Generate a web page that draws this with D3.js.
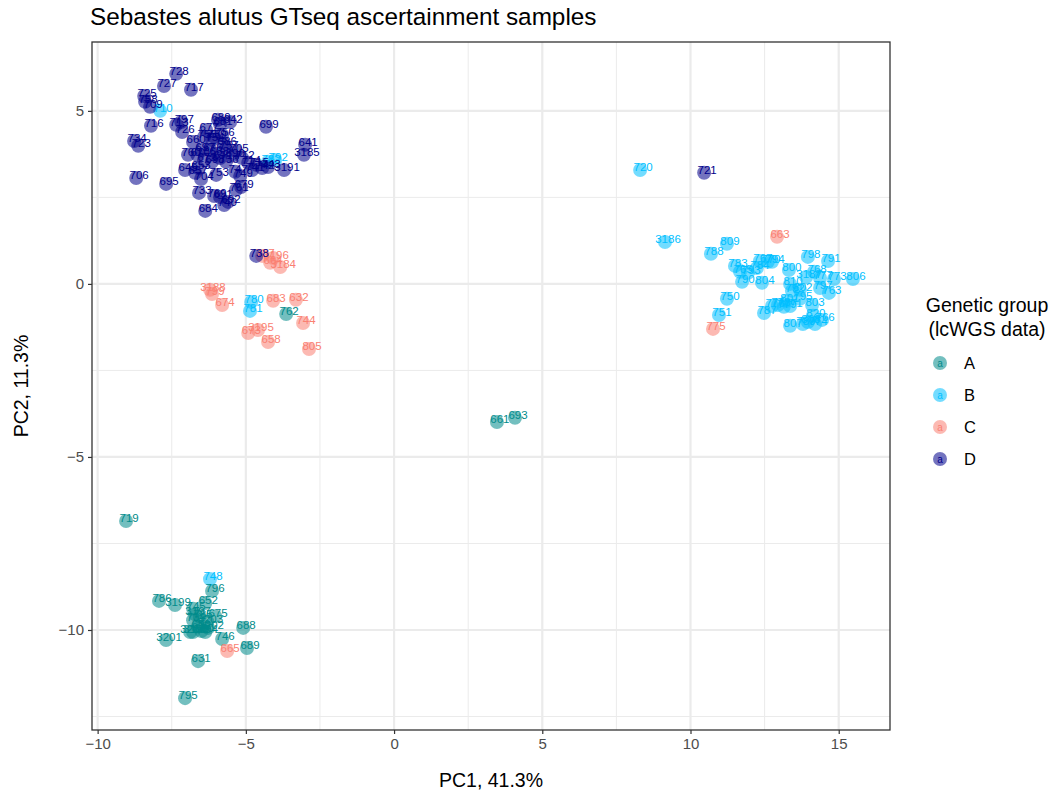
<!DOCTYPE html>
<html><head><meta charset="utf-8">
<script src="https://cdn.jsdelivr.net/npm/d3@7"></script>
<style>body{margin:0;background:#fff}svg{font-family:"Liberation Sans",Arial,sans-serif}</style>
</head><body><svg id="c" width="1060" height="791"></svg>
<script>
// [sample id, PC1, PC2]
const groupA = [
["719",-9.04,-6.85],["661",3.47,-3.99],["693",4.08,-3.87],["762",-3.64,-0.87],
["786",-7.93,-9.16],["3199",-7.39,-9.28],["652",-6.37,-9.22],["796",-6.14,-8.87],["745",-6.78,-9.39],
["3197",-6.71,-9.55],["734",-6.78,-9.72],["656",-6.61,-9.90],["3198",-6.78,-10.06],["690",-6.50,-10.03],
["794",-6.37,-10.06],["785",-6.55,-9.62],["3203",-6.30,-9.76],["3200",-6.88,-10.06],["675",-6.04,-9.60],
["3202",-6.27,-9.94],["688",-5.09,-9.94],["746",-5.80,-10.26],["689",-4.96,-10.52],["3201",-7.69,-10.29],
["631",-6.61,-10.90],["795",-7.05,-11.97]
];
const groupB = [
["710",-7.89,5.00],["782",-4.25,3.53],["792",-4.01,3.58],["780",-4.82,-0.52],["781",-4.86,-0.78],["748",-6.21,-8.53],
["720",8.30,3.29],["3186",9.14,1.21],["809",11.23,1.16],["788",10.69,0.87],["783",11.50,0.52],["765",11.67,0.35],
["767",12.34,0.66],["770",12.61,0.64],["794",12.75,0.64],["793",11.94,0.32],["784",12.24,0.46],["790",11.74,0.06],
["804",12.41,0.03],["800",13.32,0.40],["798",13.96,0.78],["791",14.64,0.66],["768",14.17,0.35],["3187",13.90,0.20],
["777",14.37,0.17],["773",14.84,0.14],["806",15.48,0.14],["810",13.36,0.00],["797",14.37,-0.12],["792",13.42,-0.20],
["802",13.69,-0.17],["795",13.69,-0.43],["803",14.10,-0.61],["763",14.67,-0.26],["750",11.23,-0.43],["751",10.96,-0.90],
["787",12.48,-0.84],["776",12.75,-0.64],["778",12.95,-0.61],["779",13.15,-0.66],["771",13.36,-0.64],["801",13.25,-0.49],
["820",14.13,-0.92],["774",14.20,-1.16],["766",14.44,-1.04],["807",13.36,-1.21],["789",13.79,-1.16],["808",13.96,-1.10]
];
const groupC = [
["737",-4.45,0.81],["3196",-4.08,0.75],["664",-4.18,0.61],["3184",-3.84,0.49],["3188",-6.21,-0.17],["799",-6.14,-0.29],
["674",-5.80,-0.61],["683",-4.08,-0.49],["632",-3.31,-0.46],["744",-3.07,-1.13],["673",-4.92,-1.42],["3195",-4.59,-1.33],
["658",-4.25,-1.68],["805",-2.87,-1.88],["663",12.92,1.36],["775",10.76,-1.30],["665",-5.63,-10.61]
];
const groupD = [
["728",-7.35,6.07],["727",-7.76,5.72],["717",-6.85,5.61],["725",-8.43,5.43],["758",-8.40,5.26],["709",-8.23,5.12],
["716",-8.20,4.57],["797",-7.18,4.68],["713",-7.35,4.60],["726",-7.15,4.39],["689",-5.94,4.74],["681",-5.87,4.62],
["642",-5.53,4.68],["699",-4.32,4.54],["677",-6.34,4.45],["759",-6.07,4.25],["660",-6.78,4.10],["686",-5.73,4.05],
["734",-8.77,4.13],["723",-8.63,3.99],["641",-3.00,4.02],["3185",-3.04,3.73],["705",-5.33,3.84],["706",-8.70,3.06],
["695",-7.69,2.89],["3191",-3.71,3.29],["653",-6.61,3.35],["645",-7.05,3.29],["657",-6.71,3.21],["753",-6.00,3.15],
["704",-6.51,3.03],["736",-5.67,3.53],["733",-6.58,2.63],["769",-6.07,2.54],["679",-5.16,2.80],["761",-5.33,2.72],
["691",-5.87,2.51],["692",-5.60,2.37],["740",-5.73,2.28],["684",-6.37,2.11],["670",-6.64,3.73],["697",-6.48,3.87],
["676",-6.21,3.87],["668",-6.00,3.76],["672",-6.41,3.58],["698",-6.14,3.53],["671",-5.87,3.64],["690",-5.46,3.70],
["712",-5.13,3.64],["714",-4.92,3.50],["715",-4.65,3.44],["741",-4.79,3.29],["742",-4.45,3.35],["743",-4.25,3.38],
["747",-5.36,3.24],["749",-5.19,3.12],["754",-6.14,4.16],["755",-6.41,4.25],["756",-5.80,4.31],["757",-5.67,3.93],
["760",-6.95,3.73],["738",-4.65,0.81],["721",10.46,3.21]
];
const groupNames = ["A","B","C","D"];
const groupColors = ["#008B8B","#00BFFF","#FA8072","#00008B"];
const xTicks = [-10,-5,0,5,10,15];
const yTicks = [-10,-5,0,5];
const xMinor = [-7.5,-2.5,2.5,7.5,12.5];
const yMinor = [-12.5,-7.5,-2.5,2.5];

const svg = d3.select("#c");
const L=92,R=890,T=42,B=730;
const x = d3.scaleLinear().domain([-10.19,16.73]).range([L,R]);
const y = d3.scaleLinear().domain([-12.89,6.99]).range([B,T]);
const color = d3.scaleOrdinal().domain(groupNames).range(groupColors);

svg.append("text").attr("x",90).attr("y",25).attr("font-size",24.3).attr("fill","#000")
  .text("Sebastes alutus GTseq ascertainment samples");

const g = svg.append("g");
g.selectAll(".xm").data(xMinor).join("line").attr("x1",d=>x(d)).attr("x2",d=>x(d)).attr("y1",T).attr("y2",B).attr("stroke","#ebebeb").attr("stroke-width",1);
g.selectAll(".ym").data(yMinor).join("line").attr("y1",d=>y(d)).attr("y2",d=>y(d)).attr("x1",L).attr("x2",R).attr("stroke","#ebebeb").attr("stroke-width",1);
g.selectAll(".xM").data(xTicks).join("line").attr("x1",d=>x(d)).attr("x2",d=>x(d)).attr("y1",T).attr("y2",B).attr("stroke","#ebebeb").attr("stroke-width",2.2);
g.selectAll(".yM").data(yTicks).join("line").attr("y1",d=>y(d)).attr("y2",d=>y(d)).attr("x1",L).attr("x2",R).attr("stroke","#ebebeb").attr("stroke-width",2.2);

const all = [];
[groupA,groupB,groupC,groupD].forEach((arr,i)=>arr.forEach(d=>all.push({id:d[0],pc1:d[1],pc2:d[2],grp:groupNames[i]})));

g.selectAll("circle.pt").data(all).join("circle").attr("class","pt")
  .attr("cx",d=>x(d.pc1)).attr("cy",d=>y(d.pc2)).attr("r",7)
  .attr("fill",d=>color(d.grp)).attr("fill-opacity",0.55);
g.selectAll("text.lb").data(all).join("text").attr("class","lb")
  .attr("x",d=>x(d.pc1)+3).attr("y",d=>y(d.pc2)-3).attr("dy","0.35em")
  .attr("text-anchor","middle").attr("font-size",11.5)
  .attr("fill",d=>color(d.grp)).text(d=>d.id);

svg.append("rect").attr("x",L).attr("y",T).attr("width",R-L).attr("height",B-T)
  .attr("fill","none").attr("stroke","#333").attr("stroke-width",1.3);

const fmt = d=>d<0?"\u2212"+Math.abs(d):d;
const xa = svg.append("g").attr("transform",`translate(0,${B})`)
  .call(d3.axisBottom(x).tickValues(xTicks).tickSize(4).tickPadding(4).tickFormat(fmt));
const ya = svg.append("g").attr("transform",`translate(${L},0)`)
  .call(d3.axisLeft(y).tickValues(yTicks).tickSize(4).tickPadding(4).tickFormat(fmt));
[xa,ya].forEach(a=>{a.select(".domain").remove();a.selectAll("line").attr("stroke","#333").attr("stroke-width",1.2);
  a.selectAll("text").attr("fill","#4d4d4d").attr("font-size",15).attr("font-family","'Liberation Sans',Arial,sans-serif");});

svg.append("text").attr("x",491).attr("y",787).attr("text-anchor","middle").attr("font-size",19.5).text("PC1, 41.3%");
svg.append("text").attr("transform",`translate(28,386) rotate(-90)`).attr("text-anchor","middle").attr("font-size",19.5).text("PC2, 11.3%");

const lg = svg.append("g");
lg.append("text").attr("x",987).attr("y",312).attr("text-anchor","middle").attr("font-size",19.5).text("Genetic group");
lg.append("text").attr("x",987).attr("y",336).attr("text-anchor","middle").attr("font-size",19.5).text("(lcWGS data)");
groupNames.forEach((n,i)=>{
  const cy = 363 + i*32;
  lg.append("circle").attr("cx",940).attr("cy",cy).attr("r",7).attr("fill",color(n)).attr("fill-opacity",0.55);
  lg.append("text").attr("x",940).attr("y",cy).attr("dy","0.35em").attr("text-anchor","middle").attr("font-size",10).attr("fill",color(n)).text("a");
  lg.append("text").attr("x",964).attr("y",cy).attr("dy","0.36em").attr("font-size",16.5).attr("fill","#000").text(n);
});
</script></body></html>
